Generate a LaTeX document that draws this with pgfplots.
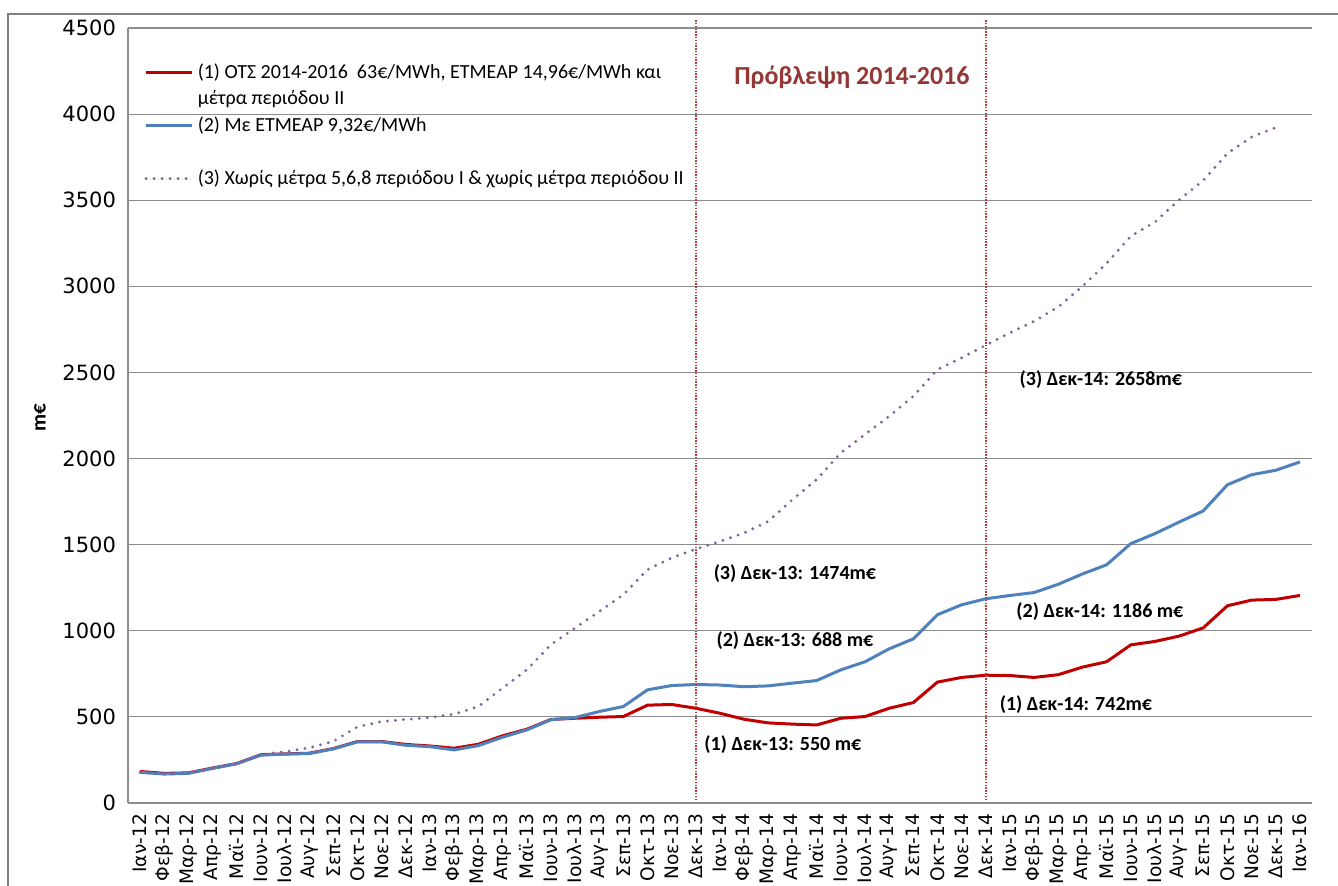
\documentclass[border=0pt]{standalone}
\usepackage{pgfplots}
\pgfplotsset{compat=1.18}
\usepackage{fontspec}
\setmainfont{Carlito}
\newfontfamily\dejavu{DejaVu Sans}
\definecolor{cred}{HTML}{C00000}
\definecolor{cblue}{HTML}{4F81BD}
\definecolor{cpurple}{HTML}{8064A2}
\definecolor{gridgray}{HTML}{8C8C8C}
\definecolor{bordergray}{HTML}{7F7F7F}
\definecolor{vline}{HTML}{B83A3A}
\definecolor{titlered}{HTML}{953735}
\begin{document}
\begin{tikzpicture}
\begin{axis}[
  scale only axis, width=592pt, height=387.5pt,
  xmin=-0.5, xmax=48.5, ymin=0, ymax=4500,
  ytick={0,500,...,4500},
  xtick={0,...,48},
  xticklabels={Ιαν-12,Φεβ-12,Μαρ-12,Απρ-12,Μαϊ-12,Ιουν-12,Ιουλ-12,Αυγ-12,Σεπ-12,Οκτ-12,Νοε-12,Δεκ-12,
               Ιαν-13,Φεβ-13,Μαρ-13,Απρ-13,Μαϊ-13,Ιουν-13,Ιουλ-13,Αυγ-13,Σεπ-13,Οκτ-13,Νοε-13,Δεκ-13,
               Ιαν-14,Φεβ-14,Μαρ-14,Απρ-14,Μαϊ-14,Ιουν-14,Ιουλ-14,Αυγ-14,Σεπ-14,Οκτ-14,Νοε-14,Δεκ-14,
               Ιαν-15,Φεβ-15,Μαρ-15,Απρ-15,Μαϊ-15,Ιουν-15,Ιουλ-15,Αυγ-15,Σεπ-15,Οκτ-15,Νοε-15,Δεκ-15,Ιαν-16},
  x tick label style={rotate=90, anchor=east, font=\dejavu\fontsize{9.3}{10}\selectfont, xshift=-2pt},
  y tick label style={font=\dejavu\fontsize{10.5}{12}\selectfont, xshift=-2.5pt},
  /pgf/number format/assume math mode=true,
  /pgf/number format/1000 sep={},
  scaled y ticks=false,
  axis x line*=bottom, axis y line*=left,
  axis line style={gridgray, line width=0.6pt, -},
  ymajorgrids, grid style={gridgray, line width=0.6pt},
  major tick length=0pt,
  clip=false,
  ylabel={\bfseries m€},
  ylabel style={font=\fontsize{10.5}{12}\selectfont, at={(axis description cs:-0.0743,0.4968)}, anchor=center},
  legend cell align=left,
  legend image code/.code={\draw[#1] (0pt,0pt) -- (23pt,0pt);},
  legend style={at={(axis description cs:0.012,0.962)}, anchor=north west, draw=none, fill=none,
                font=\fontsize{10}{12}\selectfont, row sep=0.5pt, inner sep=1pt,
                nodes={inner xsep=2pt}},
]
\addplot[cred, line width=1.5pt] coordinates {
(0,183)(1,172)(2,175)(3,203)(4,229)(5,280)(6,285)(7,289)(8,316)(9,357)(10,357)(11,340)
(12,331)(13,318)(14,341)(15,390)(16,428)(17,485)(18,492)(19,498)(20,502)(21,568)(22,572)(23,550)
(24,521)(25,486)(26,465)(27,458)(28,453)(29,492)(30,502)(31,550)(32,583)(33,702)(34,729)(35,742)
(36,740)(37,729)(38,745)(39,789)(40,820)(41,918)(42,938)(43,969)(44,1017)(45,1145)(46,1178)(47,1182)(48,1205)};
\addlegendentry{(1) ΟΤΣ 2014-2016\ \ 63€/MWh, ΕΤΜΕΑΡ 14,96€/MWh και}
\addlegendimage{draw opacity=0}
\addlegendentry{μέτρα περιόδου ΙΙ}
\addplot[cblue, line width=1.5pt] coordinates {
(0,178)(1,168)(2,172)(3,201)(4,228)(5,278)(6,284)(7,287)(8,314)(9,355)(10,355)(11,335)
(12,327)(13,308)(14,333)(15,382)(16,424)(17,483)(18,496)(19,531)(20,560)(21,657)(22,682)(23,688)
(24,685)(25,675)(26,680)(27,696)(28,711)(29,773)(30,820)(31,895)(32,953)(33,1093)(34,1151)(35,1186)
(36,1205)(37,1222)(38,1270)(39,1330)(40,1383)(41,1506)(42,1564)(43,1631)(44,1696)(45,1848)(46,1906)(47,1932)(48,1980)};
\addlegendentry{(2) Με ΕΤΜΕΑΡ 9,32€/MWh}
\addlegendimage{draw opacity=0}
\addlegendentry{\phantom{(2)}}
\addplot[cpurple, line width=1.6pt, line cap=round, dash pattern=on 0pt off 4pt] coordinates {
(0,178)(1,168)(2,172)(3,201)(4,228)(5,282)(6,298)(7,320)(8,358)(9,442)(10,473)(11,485)
(12,496)(13,516)(14,560)(15,667)(16,773)(17,919)(18,1016)(19,1112)(20,1209)(21,1355)(22,1423)(23,1474)
(24,1519)(25,1568)(26,1636)(27,1762)(28,1878)(29,2033)(30,2140)(31,2246)(32,2362)(33,2517)(34,2585)(35,2658)
(36,2730)(37,2797)(38,2881)(39,3000)(40,3134)(41,3291)(42,3373)(43,3502)(44,3615)(45,3772)(46,3867)(47,3922)};
\addlegendentry{(3) Χωρίς μέτρα 5,6,8 περιόδου I \& χωρίς μέτρα περιόδου II}
\draw[vline, line width=0.7pt, dash pattern=on 0.7pt off 0.7pt] (axis cs:23,17) -- (axis cs:23,4552);
\draw[vline, line width=0.7pt, dash pattern=on 0.7pt off 0.7pt] (axis cs:35,17) -- (axis cs:35,4552);
\node[font=\fontsize{13}{15}\selectfont\bfseries, text=titlered] at (axis cs:29.46,4215) {Πρόβλεψη 2014-2016};
\node[font=\fontsize{10}{12}\selectfont\bfseries] at (axis cs:27.1,1331) {(3) Δεκ-13: 1474m€};
\node[font=\fontsize{10}{12}\selectfont\bfseries] at (axis cs:27.1,942) {(2) Δεκ-13: 688 m€};
\node[font=\fontsize{10}{12}\selectfont\bfseries] at (axis cs:26.6,337) {(1) Δεκ-13: 550 m€};
\node[font=\fontsize{10}{12}\selectfont\bfseries] at (axis cs:39.76,2459) {(3) Δεκ-14: 2658m€};
\node[font=\fontsize{10}{12}\selectfont\bfseries] at (axis cs:39.72,1110) {(2) Δεκ-14: 1186 m€};
\node[font=\fontsize{10}{12}\selectfont\bfseries] at (axis cs:38.73,570) {(1) Δεκ-14: 742m€};
\end{axis}
\draw[bordergray, line width=0.9pt] (-60pt,-60pt) -- (-60pt,394.5pt) -- (620pt,394.5pt);
\pgfresetboundingbox
\useasboundingbox (-64pt,-41.5pt) rectangle (605pt,401.5pt);
\end{tikzpicture}
\end{document}
